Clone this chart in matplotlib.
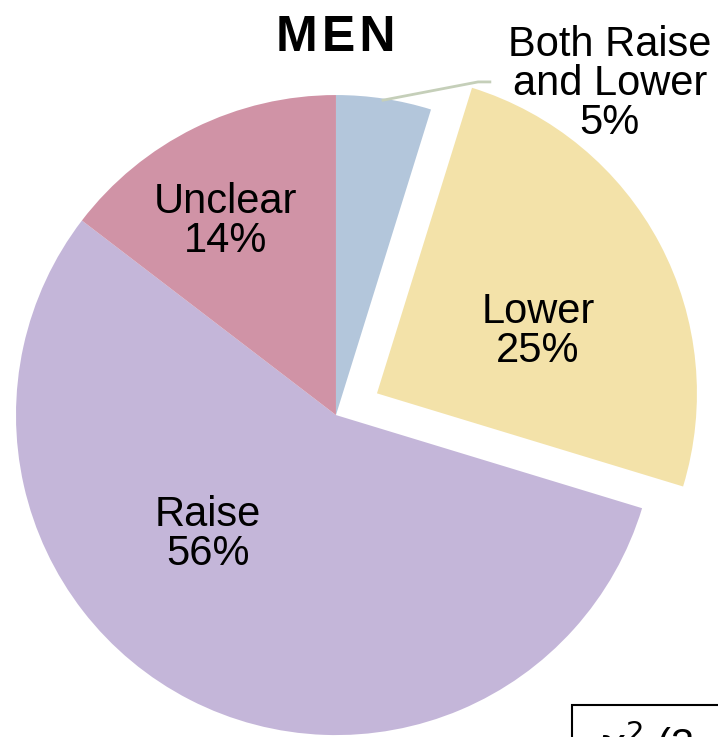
import matplotlib.pyplot as plt
from matplotlib.patches import Rectangle

plt.rcParams['font.family'] = ['Liberation Sans', 'DejaVu Sans']

categories = ['Both Raise\nand Lower', 'Lower', 'Raise', 'Unclear']
shares = [4.8, 24.9, 55.7, 14.6]      # wedge sizes as measured
pct_labels = ['5%', '25%', '56%', '14%']  # percentages printed on the chart
colors = ['#b3c6db', '#f3e2a9', '#c4b6d9', '#d093a6']
explode = [0, 0.145, 0, 0]

fig = plt.figure(figsize=(7.18, 7.37), dpi=100)
ax = fig.add_axes([0, 0, 1, 1])
ax.axis('off')

wedges, _ = ax.pie(shares, colors=colors, explode=explode, startangle=90,
                   counterclock=False, radius=1.0)

# pie centre sits left of middle, chart is cropped at bottom/right
ax.set_xlim(-1.05, 1.194)
ax.set_ylim(-1.006, 1.297)
ax.set_aspect('auto')

fs = 30
lbl_pos = {'Lower': (0.631, 0.262), 'Raise': (-0.40, -0.372), 'Unclear': (-0.344, 0.605)}
for name, pct in zip(categories, pct_labels):
    if name in lbl_pos:
        x, y = lbl_pos[name]
        ax.text(x, y, f'{name}\n{pct}', ha='center', va='center', fontsize=fs,
                linespacing=0.97)

ax.text(0.856, 1.034, f'{categories[0]}\n{pct_labels[0]}', ha='center', va='center',
        fontsize=fs, linespacing=0.97)
ax.plot([0.147, 0.444, 0.481], [0.984, 1.041, 1.041], color='#c5cfb9', lw=2)

ax.text(0.0, 1.1375, 'M\u200aE\u200aN', ha='center', va='baseline', fontsize=36,
        fontweight='bold')

# stats box, mostly off the canvas
fig.patches.append(Rectangle((572 / 718, -0.1), 0.5, 0.1 + (737 - 705) / 737,
                             transform=fig.transFigure, fill=False, ec='black', lw=1.5))
fig.text(597 / 718, (737 - 718) / 737, r'$\chi^2$ (3, N = 1,000) = 12.4', ha='left',
         va='top', fontsize=fs)

fig.savefig('out.png', dpi=100)
